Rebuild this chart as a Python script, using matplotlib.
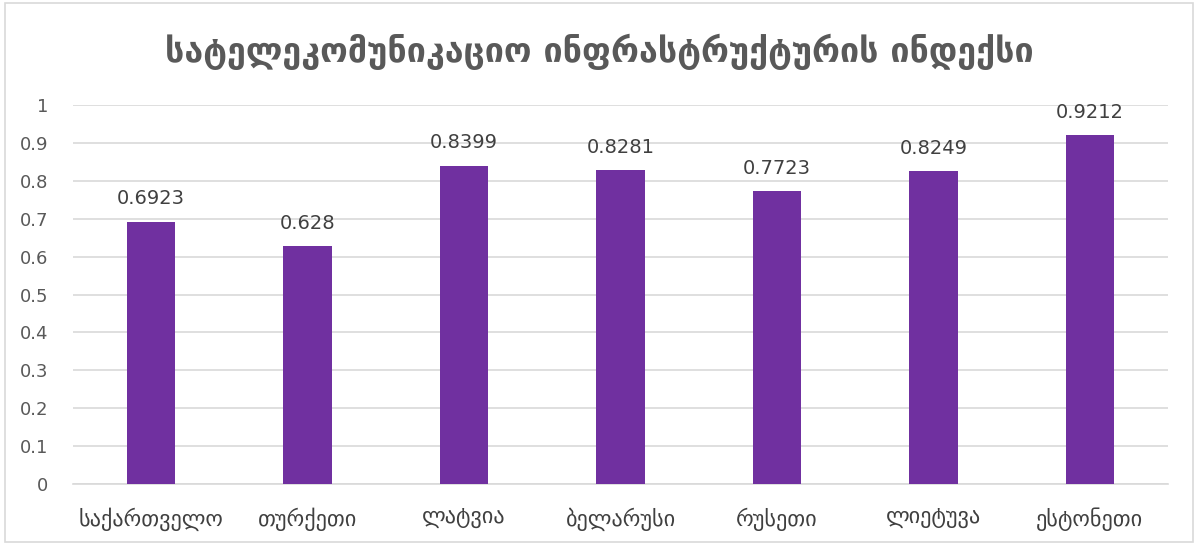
import matplotlib
matplotlib.use("Agg")
import matplotlib.pyplot as plt
from matplotlib.patches import Rectangle

countries = ["საქართველო", "თურქეთი", "ლატვია", "ბელარუსი", "რუსეთი", "ლიეტუვა", "ესტონეთი"]
values = [0.6923, 0.628, 0.8399, 0.8281, 0.7723, 0.8249, 0.9212]
labels = ["0.6923", "0.628", "0.8399", "0.8281", "0.7723", "0.8249", "0.9212"]
yticks = [0, 0.1, 0.2, 0.3, 0.4, 0.5, 0.6, 0.7, 0.8, 0.9, 1]
ytick_labels = ["0", "0.1", "0.2", "0.3", "0.4", "0.5", "0.6", "0.7", "0.8", "0.9", "1"]

plt.rcParams["font.family"] = ["DejaVu Sans"]
W, H = 1198, 544
fig = plt.figure(figsize=(W / 100, H / 100), dpi=100)
fig.patches.append(Rectangle((0.004, 0.004), 0.992, 0.99, transform=fig.transFigure,
                             fill=False, ec="#d9d9d9", lw=1.2))

ax = fig.add_axes([73 / W, 1 - 484 / H, (1168 - 73) / W, (484 - 105) / H])
x = range(len(countries))
ax.bar(x, values, width=0.31, color="#7030a0", zorder=3)
for i, (v, s) in enumerate(zip(values, labels)):
    ax.text(i, v + 0.035, s, ha="center", va="bottom", fontsize=14, color="#404040")

ax.set_ylim(0, 1)
ax.set_xlim(-0.5, len(countries) - 0.5)
ax.set_yticks(yticks)
ax.set_yticklabels(ytick_labels, fontsize=13, color="#595959")
ax.set_xticks(list(x))
ax.set_xticklabels(countries, fontsize=16, color="#404040")
ax.tick_params(length=0)
ax.tick_params(axis="x", pad=17)
ax.tick_params(axis="y", pad=18)
ax.grid(axis="y", color="#d9d9d9", lw=1.2, zorder=0)
for sp in ["top", "right", "left"]:
    ax.spines[sp].set_visible(False)
ax.spines["bottom"].set_color("#d9d9d9")
ax.spines["bottom"].set_linewidth(1.2)

fig.text(0.5, 1 - 52 / H, "სატელეკომუნიკაციო ინფრასტრუქტურის ინდექსი",
         ha="center", va="center", fontsize=24.5, fontweight="bold", color="#595959")

fig.savefig("out.png", dpi=100)
